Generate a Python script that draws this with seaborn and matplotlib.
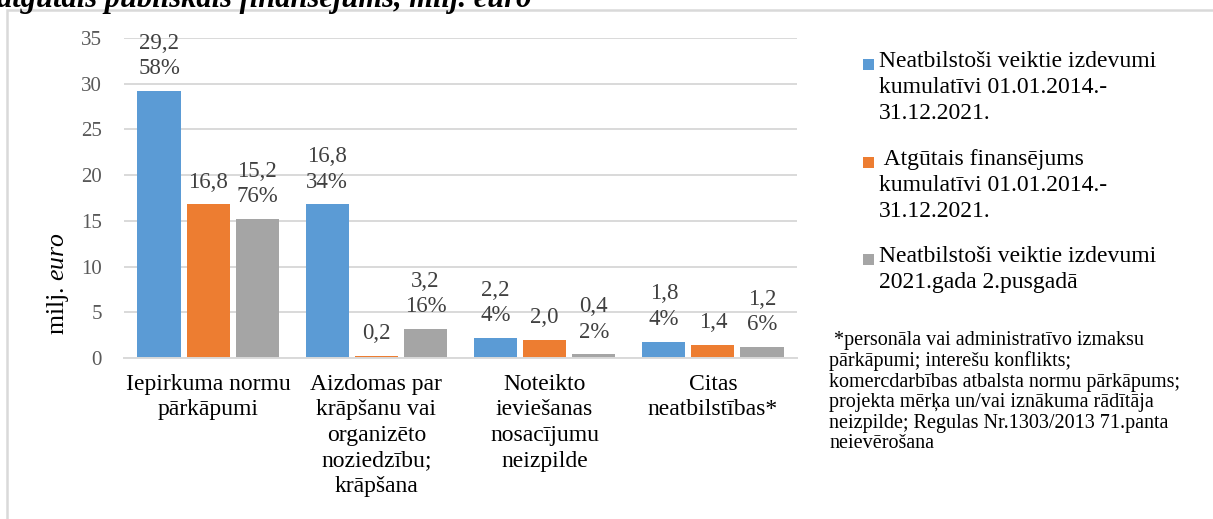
import matplotlib
matplotlib.use("Agg")
import matplotlib.pyplot as plt
import seaborn as sns
import pandas as pd
from matplotlib.patches import Rectangle

# ---------------- data ----------------
categories = [
    "Iepirkuma normu\npārkāpumi",
    "Aizdomas par\nkrāpšanu vai\norganizēto\nnoziedzību;\nkrāpšana",
    "Noteikto\nieviešanas\nnosacījumu\nneizpilde",
    "Citas\nneatbilstības*",
]
series_names = [
    "Neatbilstoši veiktie izdevumi\nkumulatīvi 01.01.2014.-\n31.12.2021.",
    " Atgūtais finansējums\nkumulatīvi 01.01.2014.-\n31.12.2021.",
    "Neatbilstoši veiktie izdevumi\n2021.gada 2.pusgadā",
]
blue_vals = [29.2, 16.8, 2.2, 1.8]
orange_vals = [16.8, 0.2, 2.0, 1.4]
gray_vals = [15.2, 3.2, 0.4, 1.2]
blue_pct = ["58%", "34%", "4%", "4%"]
gray_pct = ["76%", "16%", "2%", "6%"]
y_ticks = [0, 5, 10, 15, 20, 25, 30, 35]
colors = ["#5B9BD5", "#ED7D31", "#A5A5A5"]
footnote = (" *personāla vai administratīvo izmaksu\n"
            "pārkāpumi; interešu konflikts;\n"
            "komercdarbības atbalsta normu pārkāpums;\n"
            "projekta mērķa un/vai iznākuma rādītāja\n"
            "neizpilde; Regulas Nr.1303/2013 71.panta\n"
            "neievērošana")
title_text = "atgūtais publiskais finansējums, milj. euro"

# ---------------- style ----------------
sns.set_theme(style="white")
plt.rcParams['font.family'] = ['Liberation Serif', 'DejaVu Serif']
plt.rcParams['mathtext.fontset'] = 'custom'
plt.rcParams['mathtext.rm'] = 'Liberation Serif'
plt.rcParams['mathtext.it'] = 'Liberation Serif:italic'

W, H = 1213, 519
fig = plt.figure(figsize=(W / 100, H / 100), dpi=100)

ASC = 0.891  # font ascent (em) used by matplotlib's text layout


def fx(px):
    return px / W


def fy(py):
    return 1 - py / H


def em(pt):
    return pt * 100 / 72


# outer frame (chart area border)
fig.patches.append(Rectangle((fx(7), fy(H + 5)), fx(W), fy(10) - fy(H + 5),
                             transform=fig.transFigure, fill=False,
                             edgecolor="#d9d9d9", linewidth=1.8))

# clipped title at top
fig.text(fx(-3), fy(7), title_text, fontsize=22, style="italic",
         fontweight="bold", ha="left", va="baseline", color="black")

ax = fig.add_axes([fx(124), fy(358), fx(797 - 124), fy(38) - fy(358)])

rows = []
for cat, b, o, g in zip(categories, blue_vals, orange_vals, gray_vals):
    rows.append({"cat": cat, "series": series_names[0], "val": b})
    rows.append({"cat": cat, "series": series_names[1], "val": o})
    rows.append({"cat": cat, "series": series_names[2], "val": g})
df = pd.DataFrame(rows)

sns.barplot(data=df, x="cat", y="val", hue="series", order=categories,
            hue_order=series_names, palette=colors, width=0.875, gap=0.12,
            linewidth=0, saturation=1, legend=False, ax=ax)

cat_fs = 17
ax.set_xlim(-0.5, 3.5)
ax.set_ylim(0, 35)
ax.set_yticks(y_ticks)
ax.set_yticklabels([str(t) for t in y_ticks], fontsize=15, color="#595959")
ax.set_xticks(range(len(categories)))
ax.set_xticklabels(categories, fontsize=cat_fs, color="black",
                   linespacing=27 / (ASC * em(cat_fs)))
ax.tick_params(axis="y", length=0, pad=16)
ax.tick_params(axis="x", length=0, pad=(395 - ASC * em(cat_fs) - 358) * 0.72)
ax.set_xlabel("")
ax.set_ylabel("")
ax.yaxis.grid(True, color="#d9d9d9", linewidth=1.4)
ax.set_axisbelow(True)
for s in ["top", "right", "left"]:
    ax.spines[s].set_visible(False)
ax.spines["bottom"].set_color("#d9d9d9")
ax.spines["bottom"].set_linewidth(1.4)


def fmt(v):
    return f"{v:.1f}".replace(".", ",")


labels_sets = [
    [f"{fmt(v)}\n{p}" for v, p in zip(blue_vals, blue_pct)],
    [fmt(v) for v in orange_vals],
    [f"{fmt(v)}\n{p}" for v, p in zip(gray_vals, gray_pct)],
]
lab_fs = 16.5
for cont, labs in zip(ax.containers, labels_sets):
    ax.bar_label(cont, labels=labs, padding=8.5, fontsize=lab_fs, color="#404040",
                 linespacing=26 / (ASC * em(lab_fs)))

# y label
fig.text(fx(58), fy(284), r"milj. $\mathit{euro}$", rotation=90,
         ha="center", va="center", fontsize=18.5, color="black")

# manual legend
leg_fs = 17
leg_baselines = [72, 170, 267]
for name, col, bl in zip(series_names, colors, leg_baselines):
    fig.patches.append(Rectangle((fx(863), fy(bl - 2)), fx(11), fy(bl - 13) - fy(bl - 2),
                                 transform=fig.transFigure, facecolor=col,
                                 edgecolor="none"))
    fig.text(fx(879), fy(bl - ASC * em(leg_fs)), name, fontsize=leg_fs,
             ha="left", va="top", color="black",
             linespacing=27.5 / (ASC * em(leg_fs)))

# footnote
fn_fs = 14.5
fig.text(fx(829), fy(349 - ASC * em(fn_fs)), footnote, fontsize=fn_fs,
         ha="left", va="top", color="black",
         linespacing=19.7 / (ASC * em(fn_fs)))

fig.savefig("out.png", dpi=100)
